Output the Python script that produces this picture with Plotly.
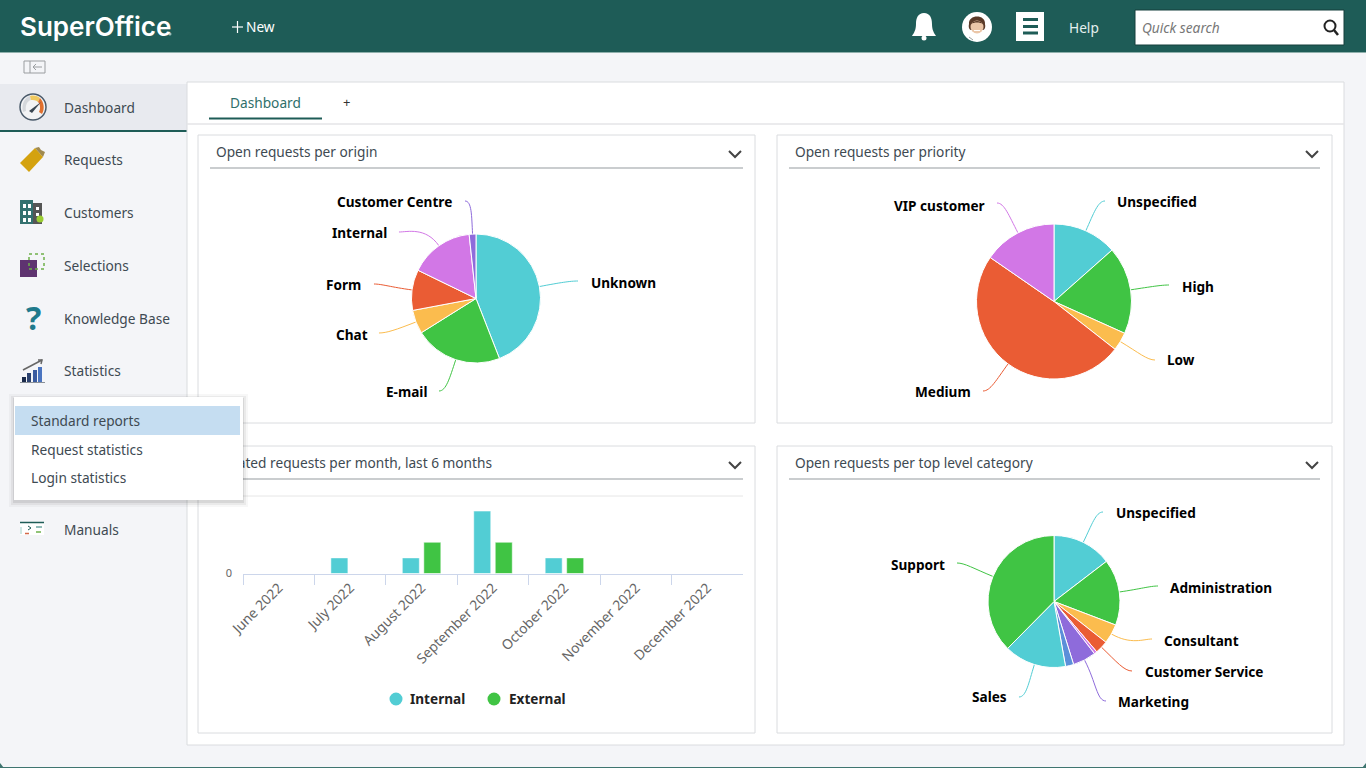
import math
import plotly.graph_objects as go

WIDTH = 1366
HEIGHT = 768
FONT = "Noto Sans"

TEAL = "#52CDD4"
GREEN = "#40C444"
ORANGE = "#FBBC4E"
RED = "#EA5C34"
PINK = "#D277E6"
PURPLE = "#8E6BDB"
BLUE = "#5B8FD9"
HEADER = "#1E5C57"
TEXT = "#3E4A52"

# open requests per origin
origin_labels = ["Unknown", "E-mail", "Chat", "Form", "Internal", "Customer Centre"]
origin_values = [52, 26, 7, 12, 19, 2]
origin_colors = [TEAL, GREEN, ORANGE, RED, PINK, PURPLE]

# open requests per priority
priority_labels = ["Unspecified", "High", "Low", "Medium", "VIP customer"]
priority_values = [14, 19, 4, 51, 16]
priority_colors = [TEAL, GREEN, ORANGE, RED, PINK]

# open requests per top level category (two thin slices carry no caption in the picture)
category_labels = ["Unspecified", "Administration", "Consultant", "Customer Service",
                   "Slice 5", "Marketing", "Slice 7", "Sales", "Support"]
category_values = [14.6, 16.2, 4.8, 3.2, 0.7, 5.7, 2.0, 15.2, 37.6]
category_colors = [TEAL, GREEN, ORANGE, RED, PINK, PURPLE, BLUE, TEAL, GREEN]

# created requests per month
months = ["June 2022", "July 2022", "August 2022", "September 2022",
          "October 2022", "November 2022", "December 2022"]
internal_requests = [0, 1, 1, 4, 1, 0, 0]
external_requests = [0, 0, 2, 2, 1, 0, 0]

sidebar_items = ["Dashboard", "Requests", "Customers", "Selections",
                 "Knowledge Base", "Statistics", "Manuals"]
sidebar_rows = [108, 160, 213, 266, 319, 371, 530]
popup_items = ["Standard reports", "Request statistics", "Login statistics"]
popup_rows = [421, 450, 478]

# where each caption sits: leader end x, leader end y, text x, text y
origin_captions = {
    "Unknown": (578, 281, 590, 283), "E-mail": (439, 391, 428, 392),
    "Chat": (379, 333, 369, 335), "Form": (374, 284, 362, 285),
    "Internal": (399, 232, 388, 233), "Customer Centre": (465, 201, 453, 202),
}
priority_captions = {
    "Unspecified": (1105, 201, 1116, 202), "High": (1169, 285, 1181, 287),
    "Low": (1155, 360, 1166, 360), "Medium": (983, 391, 972, 392),
    "VIP customer": (997, 203, 986, 206),
}
category_captions = {
    "Unspecified": (1103, 512, 1115, 513), "Administration": (1158, 586, 1169, 588),
    "Consultant": (1152, 639, 1163, 641), "Customer Service": (1132, 671, 1144, 672),
    "Marketing": (1106, 701, 1117, 702), "Sales": (1019, 697, 1008, 697),
    "Support": (957, 563, 946, 565),
}

shapes = []
annotations = []


def px(x):
    return x / WIDTH


def py(y):
    return 1 - y / HEIGHT


def rect(x0, y0, x1, y1, fill=None, line=None, width=1, layer="below", dash=None):
    shapes.append(dict(type="rect", xref="paper", yref="paper", layer=layer,
                       x0=px(x0), x1=px(x1), y0=py(y0), y1=py(y1), fillcolor=fill,
                       line=dict(color=line, width=width if line else 0, dash=dash)))


def circle(cx, cy, r, fill=None, line=None, width=1):
    shapes.append(dict(type="circle", xref="paper", yref="paper", layer="below",
                       x0=px(cx - r), x1=px(cx + r), y0=py(cy - r), y1=py(cy + r),
                       fillcolor=fill, line=dict(color=line, width=width if line else 0)))


def seg(x0, y0, x1, y1, color, width=1):
    shapes.append(dict(type="line", xref="paper", yref="paper", layer="below",
                       x0=px(x0), x1=px(x1), y0=py(y0), y1=py(y1),
                       line=dict(color=color, width=width)))


def path(points, fill=None, line=None, width=1):
    # points: list of command letter followed by pixel pairs
    out = []
    for part in points:
        if isinstance(part, str):
            out.append(part)
        else:
            out.append(f"{px(part[0]):.5f},{py(part[1]):.5f}")
    shapes.append(dict(type="path", xref="paper", yref="paper", layer="below",
                       path=" ".join(out), fillcolor=fill,
                       line=dict(color=line, width=width if line else 0)))


def label(x, y, s, size=13.7, color=TEXT, anchor="left", weight=400, style="normal", family=FONT):
    annotations.append(dict(x=px(x - 1), y=py(y - 0.7), xref="paper", yref="paper", text=s,
                            showarrow=False, xanchor=anchor, yanchor="middle", borderpad=0,
                            font=dict(family=family, size=size, color=color, weight=weight, style=style)))


def box(x0, y0, x1, y1, fill):
    # annotation used as a box so it can sit on top of the chart titles
    annotations.append(dict(x=px(x0), y=py(y0), xref="paper", yref="paper", text=" ",
                            showarrow=False, xanchor="left", yanchor="top",
                            width=x1 - x0, height=y1 - y0, bgcolor=fill, borderpad=0, borderwidth=0))


def pie_trace(labels, values, colors, cx, cy, r):
    return go.Pie(labels=labels, values=values, sort=False, direction="clockwise", rotation=0,
                  textinfo="none", showlegend=False, automargin=False,
                  marker=dict(colors=colors, line=dict(color="white", width=1)),
                  domain=dict(x=[px(cx - r), px(cx + r)], y=[py(cy + r), py(cy - r)]))


def add_captions(labels, values, colors, captions, cx, cy, r):
    total = sum(values)
    running = 0
    for name, value, color in zip(labels, values, colors):
        angle = 2 * math.pi * (running + value / 2) / total
        running += value
        if name not in captions:
            continue
        end_x, end_y, text_x, text_y = captions[name]
        ux, uy = math.sin(angle), -math.cos(angle)
        start_x, start_y = cx + ux * r, cy + uy * r
        reach = math.hypot(end_x - start_x, end_y - start_y)
        side = 1 if end_x > cx else -1
        path(["M", (start_x, start_y), "C", (start_x + ux * reach * 0.55, start_y + uy * reach * 0.55),
              (end_x - side * reach * 0.2, end_y), (end_x, end_y)], line=color, width=1)
        label(text_x + 1, text_y, name, size=13.6, color="#000000", weight=700,
              anchor="left" if side > 0 else "right")


def card(x0, y0, x1, y1, title):
    rect(x0, y0, x1, y1, fill="white", line="#DADCDF")
    seg(x0 + 12, y0 + 33, x1 - 12, y0 + 33, "#B9BCBF", 1.5)
    chev_x = x1 - 20
    path(["M", (chev_x - 6, y0 + 16), "L", (chev_x, y0 + 22), "L", (chev_x + 6, y0 + 16)],
         line="#444444", width=2)
    label(x0 + 18, y0 + 17, title, color=TEXT)


# page chrome
rect(0, 0, WIDTH, 52, fill=HEADER)
rect(0, 52, WIDTH, 53, fill="#8FB0AC")
rect(0, 84, 187, 131, fill="#E8EAEF")
rect(0, 130, 187, 132, fill=HEADER)
rect(187, 82, 1344, 745, fill="white", line="#DADCDF")
seg(187, 124, 1344, 124, "#E4E5E7", 1.5)
seg(209, 118.5, 322, 118.5, HEADER, 2)
label(230, 103, "Dashboard", color="#2F6F6A")
label(347, 103, "+", size=13, color="#333333", anchor="center")

# window edge at the bottom
rect(0, 767, WIDTH, 768, fill="#3F7570")
path(["M", (0, 763), "L", (0, 768), "L", (4, 768), "Z"], fill="#3F7570")
path(["M", (1366, 763), "L", (1366, 768), "L", (1362, 768), "Z"], fill="#3F7570")

# top bar
label(20, 27, "SuperOffice", size=26, color="white", weight=600, family="Inter")
circle(170, 34, 1.5, fill="#9DBDB9")
seg(232, 27, 243, 27, "white", 1.2)
seg(237.5, 21, 237.5, 33, "white", 1.2)
label(246, 27.5, "New", color="white")
path(["M", (924, 13), "C", (918, 13), (916, 18), (916, 24), "C", (916, 30), (914, 33), (912, 36),
      "L", (936, 36), "C", (934, 33), (932, 30), (932, 24), "C", (932, 18), (930, 13), (924, 13), "Z"],
     fill="white")
circle(924, 38, 2.5, fill="white")
# avatar
circle(977, 27, 15, fill="white")
path(["M", (969, 24), "C", (968, 14), (986, 14), (985, 24), "C", (986, 28), (984, 30), (983, 30),
      "L", (971, 30), "C", (970, 30), (968, 28), (969, 24), "Z"], fill="#5A3A28")
circle(977, 27, 6.5, fill="#EBC6A8")
path(["M", (971, 24), "C", (973, 20), (981, 20), (983, 24), "C", (980, 22), (974, 22), (971, 24), "Z"], fill="#5A3A28")
seg(974, 30.5, 980, 30.5, "white", 1)
seg(969, 37, 973, 40, "#9AA0A0", 1)
rect(1016, 12, 1044, 41, fill="white")
for bar_y in (19.5, 26.5, 33):
    rect(1023, bar_y - 1.5, 1038, bar_y + 1.5, fill=HEADER)
label(1069, 28, "Help", color="#E4F0EE")
rect(1135, 10, 1344, 45, fill="white", line="#153F3C", width=1)
label(1142, 28, "Quick search", color="#777777", style="italic")
circle(1330, 26, 5.5, line="#222222", width=2)
seg(1334, 30, 1338, 35, "#222222", 2.5)

# sidebar
rect(24, 61, 45, 73, line="#9A9DA0")
seg(30, 61, 30, 73, "#9A9DA0")
seg(33, 67, 42, 67, "#9A9DA0")
path(["M", (36, 64), "L", (33, 67), "L", (36, 70)], line="#9A9DA0")
for name, row in zip(sidebar_items, sidebar_rows):
    label(64, row, name)

# gauge icon
circle(33, 107, 13, fill="#F2F3F5", line="#4A5A6A", width=1.5)
path(["M", (23, 112), "C", (21, 104), (25, 97), (30, 96), "L", (31, 100), "C", (27, 101), (25, 106), (26, 111), "Z"],
     fill="#D5D8DC")
path(["M", (30, 96), "C", (34, 95), (38, 96), (40, 98), "L", (38, 102), "C", (36, 100), (33, 100), (31, 100), "Z"],
     fill="#F0C95F")
path(["M", (40, 98), "C", (44, 102), (45, 109), (42, 114), "L", (39, 112), "C", (41, 108), (40, 104), (38, 102), "Z"],
     fill="#E0702E")
path(["M", (29, 111), "L", (41, 102), "L", (32, 113), "Z"], fill="#3A4652")
# ticket icon
path(["M", (20, 163), "L", (35, 148), "L", (43, 157), "L", (29, 172), "Z"], fill="#D4A20F")
path(["M", (35, 148), "L", (39, 147), "L", (41, 150), "L", (45, 152), "L", (43, 157), "Z"], fill="#A08A50")
# customers icon
rect(20, 200, 33, 224, fill="#33716F")
rect(33, 203, 42, 224, fill="#555555")
for win_y in (204, 211, 218):
    rect(23, win_y, 26, win_y + 4, fill="white")
    rect(28, win_y, 31, win_y + 4, fill="white")
for win_y in (207, 213):
    rect(36, win_y, 39, win_y + 3, fill="white")
circle(40, 219, 3.5, fill="#9ACD32")
# selections icon
rect(20, 260, 37, 277, fill="#5E3370")
rect(29, 254, 44, 269, line="#6DB04A", dash="dot", width=1.5)
# knowledge base icon
label(34, 318.5, "?", size=32, color="#1F7A8C", weight=700, anchor="center")
# statistics icon
for bar_x, bar_top, bar_color in [(22, 377, "#1A2A4A"), (27, 373, "#2C4270"), (33, 370, "#3A5BA0"), (38, 367, "#4A74C0")]:
    rect(bar_x, bar_top, bar_x + 4, 382, fill=bar_color)
seg(20, 382.5, 45, 382.5, "#8A9097", 1)
seg(23, 370, 42, 360, "#666666", 1.5)
path(["M", (38, 360), "L", (42, 360), "L", (41, 364)], line="#666666", width=1.5)
# manuals icon
rect(20, 522, 44, 535, fill="white")
seg(20, 522.5, 44, 522.5, "#1E5C57", 1.5)
seg(21, 527, 21, 534, "#9CCFC8", 1)
seg(28, 526, 31, 528, "#1E5C57", 1)
seg(28, 530, 31, 528, "#1E5C57", 1)
seg(36, 527, 42, 527, "#6DA5A0", 1.5)
seg(25, 533.5, 29, 533.5, "#D4694A", 1.5)
seg(36, 532, 41, 532, "#6DB04A", 1.5)

# dashboard cards
card(198, 135, 755, 423, "Open requests per origin")
card(777, 135, 1332, 423, "Open requests per priority")
card(198, 446, 755, 733, "Created requests per month, last 6 months")
card(777, 446, 1332, 733, "Open requests per top level category")

# top gridline of the bar chart, the axis grid does not show up at the range edge
seg(243, 496, 743, 496, "#E6E6E6", 1)

fig = go.Figure()

PIES = [
    (origin_labels, origin_values, origin_colors, origin_captions, 476, 298.5, 64.5),
    (priority_labels, priority_values, priority_colors, priority_captions, 1054, 301.5, 77.5),
    (category_labels, category_values, category_colors, category_captions, 1054, 601.5, 66),
]
for labels, values, colors, captions, cx, cy, r in PIES:
    fig.add_trace(pie_trace(labels, values, colors, cx, cy, r))
    add_captions(labels, values, colors, captions, cx, cy, r)

fig.add_trace(go.Bar(x=months, y=internal_requests, name="Internal",
                     marker=dict(color=TEAL, line=dict(color="white", width=0.5))))
fig.add_trace(go.Bar(x=months, y=external_requests, name="External",
                     marker=dict(color=GREEN, line=dict(color="white", width=0.5))))

# bar chart legend
circle(396, 699, 6.5, fill=TEAL)
label(410, 699, "Internal", size=13.6, color="#222222", weight=700)
circle(494, 699, 6.5, fill=GREEN)
label(509, 699, "External", size=13.6, color="#222222", weight=700)

# statistics popup, it covers the left end of the bar chart card
for grow, alpha in [(5, 0.03), (3, 0.05), (1, 0.08)]:
    box(14 - grow, 397 - grow + 2, 243 + grow, 500 + grow + 2, f"rgba(0,0,0,{alpha})")
box(14, 397, 243, 500, "white")
box(15, 406, 240, 435, "#C5DDF1")
for name, row in zip(popup_items, popup_rows):
    label(31, row, name)

fig.update_layout(
    width=WIDTH,
    height=HEIGHT,
    margin=dict(l=0, r=0, t=0, b=0, autoexpand=False),
    paper_bgcolor="#F4F5F8",
    plot_bgcolor="rgba(0,0,0,0)",
    showlegend=False,
    barmode="group",
    bargap=0.398,
    bargroupgap=0.21,
    font=dict(family=FONT, size=12, color="#666666"),
    shapes=shapes,
    annotations=annotations,
    xaxis=dict(domain=[px(243), px(743)], type="category", tickangle=-45, tickson="boundaries",
               ticks="outside", ticklen=10, tickcolor="#CCD6EB", linecolor="#CCD6EB", showline=True,
               showgrid=False, tickfont=dict(size=13.8, color="#666666")),
    yaxis=dict(domain=[py(573.5), py(495.5)], range=[0, 5], dtick=5, gridcolor="#E6E6E6", zeroline=False,
               showline=False, ticks="", tickfont=dict(size=11, color="#666666"), ticklabelstandoff=10),
)

fig.write_html("out.html", config=dict(displayModeBar=False),
               post_script="document.body.style.margin='0';document.body.style.overflow='hidden';")
